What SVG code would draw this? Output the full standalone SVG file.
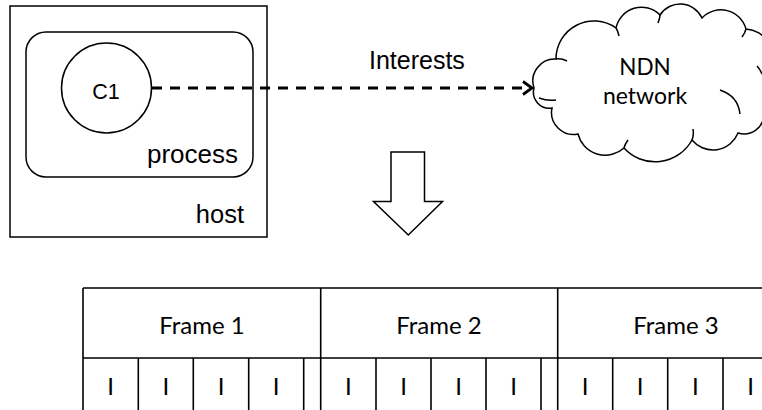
<svg xmlns="http://www.w3.org/2000/svg" width="762" height="410" viewBox="0 0 762 410">
<style>
.ln{fill:none;stroke:#000;stroke-width:1.5}
.ar{font-family:"Liberation Sans",Arial,sans-serif;fill:#000}
.cb{font-family:Lato,"Open Sans",sans-serif;fill:#000}
.tb{fill:none;stroke:#000;stroke-width:1.6}
</style>
<rect width="762" height="410" fill="#fff"/>
<g id="host">
<rect class="ln" x="10" y="6" width="257" height="231"/>
<text class="ar" x="244" y="223" font-size="25.5" text-anchor="end">host</text>
</g>
<g id="process">
<rect class="ln" x="26" y="32" width="227" height="145" rx="20" ry="20"/>
<text class="ar" x="238" y="163" font-size="26" text-anchor="end">process</text>
</g>
<g id="C1">
<circle class="ln" cx="106.5" cy="88" r="45"/>
<text class="ar" x="106" y="99" font-size="21.5" text-anchor="middle">C1</text>
</g>
<g id="ndn">
<path class="ln" d="M534,88 A22,22 0 0 1 556,59 A38,38 0 0 1 616,28 A26,26 0 0 1 660,15 A24,24 0 0 1 702,18 A26,26 0 0 1 746,29 A28,28 0 0 1 768,72 A25,25 0 0 1 764,114 A20,20 0 0 1 738,133 A27,27 0 0 1 692,140 A42,42 0 0 1 624,148 A28,28 0 0 1 578,134 A22,22 0 0 1 552,108 A16,16 0 0 1 534,88 Z"/>
<path class="ln" d="M556,59 Q561,58 567,61 M539,98 Q547,101 556,100 M616,28 Q618,31 619,36 M660,15 Q660,18 658,23 M746,29 Q745,33 742,37 M757,66 Q760,69 762,74 M720,90 Q738,96 740,114 M692,140 Q694,135 693,129 M624,148 Q625,144 628,140"/>
<text class="cb" x="645" y="75" font-size="22.5" text-anchor="middle">NDN</text>
<text class="cb" x="645" y="104" font-size="23" text-anchor="middle">network</text>
</g>
<g id="bigarrow">
<path d="M391,152 H424.5 V201.5 H442.5 L408.3,235 L373.5,201.5 H391 Z" fill="#fff" stroke="#000" stroke-width="1.5"/>
</g>
<g id="connectors">
<line x1="152" y1="88" x2="527" y2="88" stroke="#000" stroke-width="3" stroke-dasharray="10 8"/>
<polyline points="523,81.5 532,88 523,94.5" fill="none" stroke="#000" stroke-width="2.8"/>
<text class="ar" x="369" y="69" font-size="25">Interests</text>
</g>
<g id="table">
<path class="tb" d="M83,288 H800 M83,358 H800 M83,288 V410 M320.7,288 V410 M557.7,288 V410"/>
<path class="tb" d="M138.3,358 V410 M193.3,358 V410 M248.7,358 V410 M303.7,358 V410 M376,358 V410 M431,358 V410 M486,358 V410 M541,358 V410 M612.7,358 V410 M667.7,358 V410 M723,358 V410 M778,358 V410"/>
<g class="cb" font-size="24" text-anchor="middle">
<text x="202" y="334">Frame 1</text>
<text x="439" y="334">Frame 2</text>
<text x="676" y="334">Frame 3</text>
<text x="110.7" y="395">I</text>
<text x="165.8" y="395">I</text>
<text x="221" y="395">I</text>
<text x="276.2" y="395">I</text>
<text x="348.3" y="395">I</text>
<text x="403.5" y="395">I</text>
<text x="458.5" y="395">I</text>
<text x="513.5" y="395">I</text>
<text x="585.2" y="395">I</text>
<text x="640.2" y="395">I</text>
<text x="695.3" y="395">I</text>
<text x="750.5" y="395">I</text>
</g>
</g>
</svg>
